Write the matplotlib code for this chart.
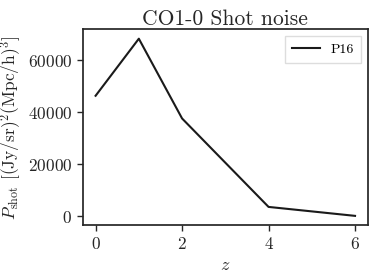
import matplotlib
matplotlib.use("Agg")
import matplotlib.pyplot as plt

# CO1-0 shot noise vs redshift
z = [0, 1, 2, 4, 6]
p_shot = [46400, 68400, 37650, 3550, 100]

plt.rcParams['font.family'] = 'serif'
plt.rcParams['font.serif'] = ['cmr10']
plt.rcParams['mathtext.fontset'] = 'cm'
plt.rcParams['axes.formatter.use_mathtext'] = True
plt.rcParams['axes.unicode_minus'] = False

fig, ax = plt.subplots(figsize=(3.79, 2.77), dpi=100)
fig.subplots_adjust(left=0.218, right=0.971, top=0.894, bottom=0.187)

ax.plot(z, p_shot, color='#1a1a1a', lw=1.5, label='P16')

ax.set_xlim(-0.3, 6.3)
ax.set_ylim(-3500, 72000)
ax.set_xticks([0, 2, 4, 6])
ax.set_yticks([0, 20000, 40000, 60000])

for s in ax.spines.values():
    s.set_color('#262626')
    s.set_linewidth(1.25)
ax.tick_params(direction='out', length=4, width=1.0, color='#262626',
               labelsize=12.5, labelcolor='#262626')

ax.set_title('CO1-0 Shot noise', fontsize=15.5, color='#262626', pad=3)
ax.set_xlabel(r'$z$', fontsize=13, color='#262626')
ax.set_ylabel(r'$P_{\rm shot}$ [(Jy/sr)$^2$(Mpc/h)$^3$]', fontsize=12.5,
              color='#262626', labelpad=3)

leg = ax.legend(loc='upper right', fontsize=10, fancybox=False, framealpha=1,
                borderpad=0.5)
leg.get_frame().set_edgecolor('#dddddd')

fig.savefig('out.png', dpi=100)
